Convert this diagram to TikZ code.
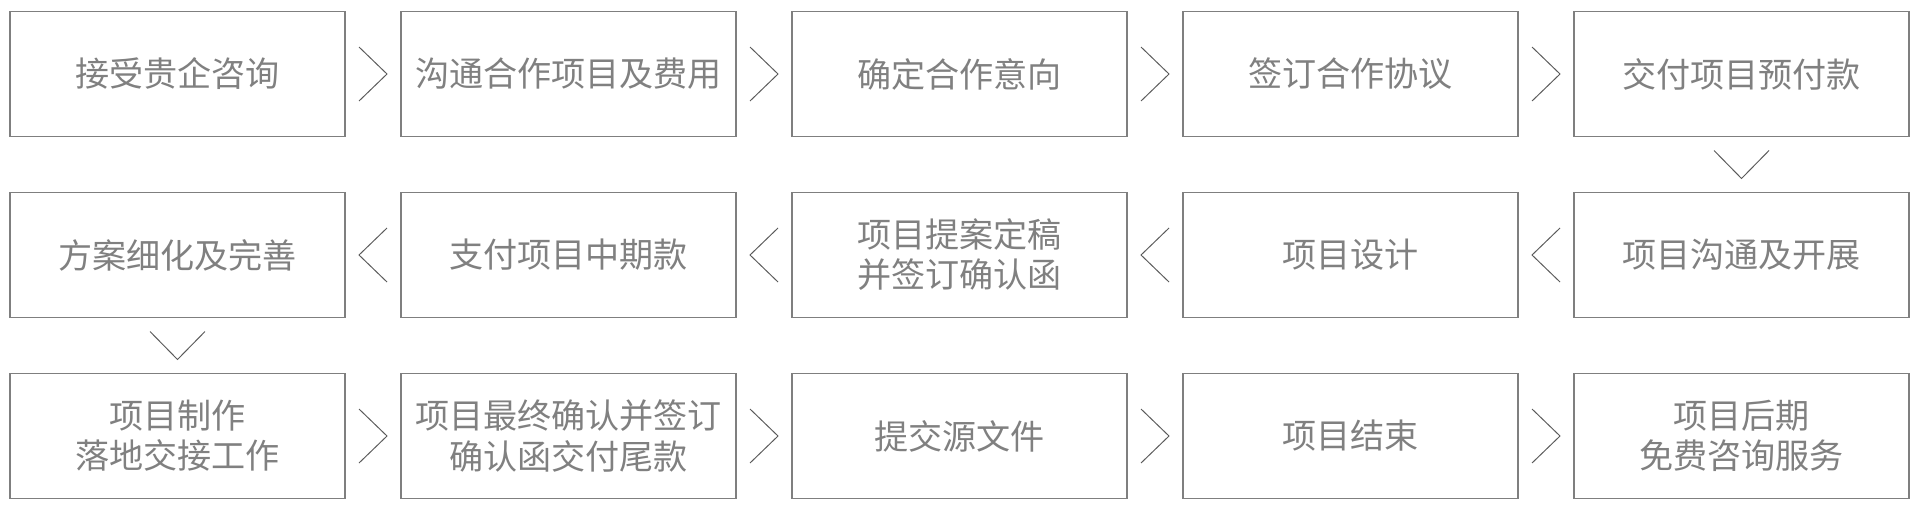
\documentclass[tikz,border=0pt]{standalone}
\usepackage{fontspec}
\usepackage{xcolor}
\usepackage{tikz}
\usetikzlibrary{positioning,calc}
\newfontfamily\cjk{Noto Sans CJK SC}
\definecolor{boxgray}{HTML}{7F7F7F}
\definecolor{txtgray}{HTML}{808080}
\definecolor{chevgray}{HTML}{5A5A5A}

\begin{document}
\begin{tikzpicture}[
  node distance=1.12cm,
  stepbox/.style={rectangle, draw=boxgray, line width=0.8pt, outer sep=0pt, align=center, minimum width=6.7cm, minimum height=2.5cm, text=txtgray, font=\cjk\fontsize{19.4pt}{22.8pt}\selectfont},
  chev/.style={draw=chevgray, line width=0.55pt}
]
\useasboundingbox (0,0) rectangle (38.4,-10.24);

% row 1
\node[stepbox] at (3.55,-1.48) (consult) {接受贵企咨询};
\node[stepbox, right=of consult] (talk) {沟通合作项目及费用};
\node[stepbox, right=of talk] (intent) {确定合作意向};
\node[stepbox, right=of intent] (sign) {签订合作协议};
\node[stepbox, right=of sign] (prepay) {交付项目预付款};

% row 2
\node[stepbox, below=of prepay] (start) {项目沟通及开展};
\node[stepbox, left=of start] (design) {项目设计};
\node[stepbox, left=of design] (confirm) {项目提案定稿\\并签订确认函};
\node[stepbox, left=of confirm] (midpay) {支付项目中期款};
\node[stepbox, left=of midpay] (refine) {方案细化及完善};

% row 3
\node[stepbox, below=of refine] (make) {项目制作\\落地交接工作};
\node[stepbox, right=of make] (final) {项目最终确认并签订\\确认函交付尾款};
\node[stepbox, right=of final] (files) {提交源文件};
\node[stepbox, right=of files] (finish) {项目结束};
\node[stepbox, right=of finish] (after) {项目后期\\免费咨询服务};

% right chevrons
\draw[chev] ($(consult.east)!0.5!(talk.west)$) ++(-0.28,0.54) -- ++(0.56,-0.54) -- ++(-0.56,-0.54);
\draw[chev] ($(talk.east)!0.5!(intent.west)$) ++(-0.28,0.54) -- ++(0.56,-0.54) -- ++(-0.56,-0.54);
\draw[chev] ($(intent.east)!0.5!(sign.west)$) ++(-0.28,0.54) -- ++(0.56,-0.54) -- ++(-0.56,-0.54);
\draw[chev] ($(sign.east)!0.5!(prepay.west)$) ++(-0.28,0.54) -- ++(0.56,-0.54) -- ++(-0.56,-0.54);
\draw[chev] ($(make.east)!0.5!(final.west)$) ++(-0.28,0.54) -- ++(0.56,-0.54) -- ++(-0.56,-0.54);
\draw[chev] ($(final.east)!0.5!(files.west)$) ++(-0.28,0.54) -- ++(0.56,-0.54) -- ++(-0.56,-0.54);
\draw[chev] ($(files.east)!0.5!(finish.west)$) ++(-0.28,0.54) -- ++(0.56,-0.54) -- ++(-0.56,-0.54);
\draw[chev] ($(finish.east)!0.5!(after.west)$) ++(-0.28,0.54) -- ++(0.56,-0.54) -- ++(-0.56,-0.54);

% left chevrons
\draw[chev] ($(start.west)!0.5!(design.east)$) ++(0.28,0.54) -- ++(-0.56,-0.54) -- ++(0.56,-0.54);
\draw[chev] ($(design.west)!0.5!(confirm.east)$) ++(0.28,0.54) -- ++(-0.56,-0.54) -- ++(0.56,-0.54);
\draw[chev] ($(confirm.west)!0.5!(midpay.east)$) ++(0.28,0.54) -- ++(-0.56,-0.54) -- ++(0.56,-0.54);
\draw[chev] ($(midpay.west)!0.5!(refine.east)$) ++(0.28,0.54) -- ++(-0.56,-0.54) -- ++(0.56,-0.54);

% down chevrons
\draw[chev] ($(prepay.south)!0.5!(start.north)$) ++(-0.55,0.28) -- ++(0.55,-0.56) -- ++(0.55,0.56);
\draw[chev] ($(refine.south)!0.5!(make.north)$) ++(-0.55,0.28) -- ++(0.55,-0.56) -- ++(0.55,0.56);

\end{tikzpicture}
\end{document}
